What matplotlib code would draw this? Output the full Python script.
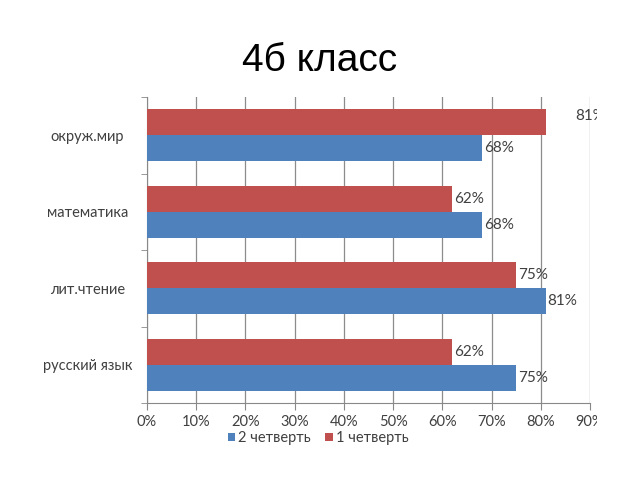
import matplotlib
matplotlib.use("Agg")
import matplotlib.pyplot as plt
import numpy as np
from matplotlib.patches import Rectangle

categories = ["русский язык", "лит.чтение", "математика", "окруж.мир"]
q2 = [75, 81, 68, 68]   # 2 четверть
q1 = [62, 75, 62, 81]   # 1 четверть
xticks = [0, 10, 20, 30, 40, 50, 60, 70, 80, 90]
xlabels = [f"{t}%" for t in xticks]

blue = "#4F81BD"
red = "#C0504D"
txt = "#404040"
font = ["Lato", "DejaVu Sans"]

fig = plt.figure(figsize=(6.4, 4.8), dpi=100)
ax = fig.add_axes([147/640, 1-403/480, 443/640, 306/480])

y = np.arange(len(categories))
h = 0.34
ax.barh(y - h/2, q2, height=h, color=blue, label="2 четверть", zorder=3)
ax.barh(y + h/2, q1, height=h, color=red, label="1 четверть", zorder=3)

ax.set_xlim(0, 90)
ax.set_ylim(-0.5, len(categories) - 0.5)
ax.set_xticks(xticks)
ax.set_xticklabels(xlabels, fontsize=10.5, color=txt, family=font)
ax.set_yticks(y)
ax.set_yticklabels(categories, fontsize=10.5, color=txt, family=font, ha="center")
ax.tick_params(axis="y", length=0, pad=43)
ax.set_yticks(np.arange(len(categories) + 1) - 0.5, minor=True)
ax.tick_params(axis="y", which="minor", length=4, color="#888888")
ax.tick_params(axis="x", length=5, color="#888888", pad=4)
ax.grid(axis="x", color="#8c8c8c", linewidth=0.9, zorder=0)
for s in ["top", "right"]:
    ax.spines[s].set_visible(False)
for s in ["left", "bottom"]:
    ax.spines[s].set_color("#888888")

clip = Rectangle((0, 0), 597, 480, transform=None)
for i, v in enumerate(q2):
    ax.text(v + 0.4, i - h/2, f"{v}%", va="center", ha="left", fontsize=11,
            color=txt, family=font, zorder=4)
for i, v in enumerate(q1):
    xpos, ypos = (v + 0.4, i + h/2) if v < 80 else (87, i + h/2 + 0.08)
    t = ax.text(xpos, ypos, f"{v}%", va="center", ha="left", fontsize=11,
                color=txt, family=font, zorder=4)
    t.set_clip_path(clip)
    t.set_clip_on(True)

for lab in ax.get_xticklabels():
    lab.set_clip_path(clip)
    lab.set_clip_on(True)

fig.text(0.5, 1-61/480, "4б класс", ha="center", va="center", fontsize=28,
         color="#000000", family=["Liberation Sans", "DejaVu Sans"])

leg = fig.legend(loc="center", bbox_to_anchor=(318/640, 1-438/480), ncol=2,
                 frameon=False, handlelength=0.5, handleheight=0.5,
                 handletextpad=0.2, columnspacing=1.0,
                 prop={"family": font, "size": 10.5})
for t in leg.get_texts():
    t.set_color(txt)

fig.savefig("out.png", dpi=100)
